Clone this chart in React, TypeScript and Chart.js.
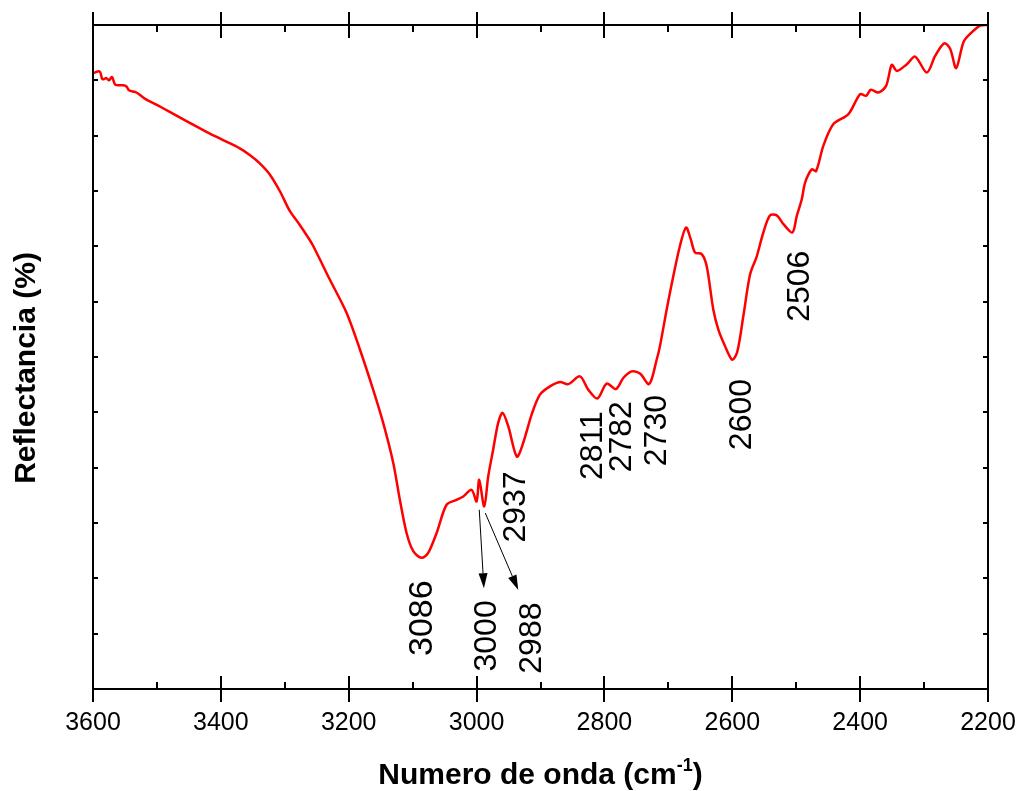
import React, { useEffect, useRef } from "react";
import { Chart, registerables } from "chart.js";

Chart.register(...registerables);

// Wavenumber (cm-1) of each sampled point of the spectrum
const wavenumber: number[] = [
  3600, 3589.5, 3585.3, 3579, 3575, 3570.3, 3565, 3553, 3547.7, 3543.7,
  3532, 3519, 3500.8, 3480, 3448.7, 3422.5, 3396.5, 3370.4, 3354.8, 3339.1,
  3323.5, 3307.8, 3292.2, 3279.2, 3263.5, 3255.7, 3229.6, 3203.4, 3182.6, 3161.8,
  3146.1, 3130.4, 3120, 3109.5, 3099, 3086, 3075.7, 3062.5, 3046.9, 3031.2,
  3020.9, 3007.8, 3000, 2995.9, 2988, 2981.8, 2974, 2966.2, 2959.3, 2950.5,
  2937, 2927, 2913.9, 2900.9, 2885.2, 2869.6, 2856.6, 2838.3, 2825.3, 2811,
  2796.5, 2782, 2770.5, 2757.4, 2744.4, 2730, 2718.3, 2713.1, 2702.6, 2692.3,
  2681.8, 2672.4, 2665, 2658.3, 2647.8, 2640, 2629.7, 2621.9, 2611.4, 2600,
  2592.1, 2582.7, 2572.2, 2561.7, 2551.4, 2540.9, 2530.4, 2520, 2506, 2499.1,
  2491.3, 2486.1, 2475.7, 2468.9, 2457.5, 2441.8, 2418.3, 2400, 2390.7, 2383.3,
  2371.4, 2359.4, 2350.5, 2342.6, 2327, 2314, 2295.7, 2282.7, 2268.6, 2259.2,
  2249.8, 2238.4, 2227.9, 2212.3, 2200,
];

// Reflectance (arbitrary units, axis has no printed values)
const reflectance: number[] = [
  11.13, 11.16, 11.02, 11.04, 11.0, 11.06, 10.92, 10.91, 10.89, 10.82,
  10.78, 10.67, 10.56, 10.43, 10.23, 10.07, 9.92, 9.77, 9.65, 9.5,
  9.3, 9.0, 8.64, 8.43, 8.16, 8.01, 7.4, 6.8, 6.14, 5.41,
  4.81, 4.09, 3.42, 2.82, 2.49, 2.37, 2.46, 2.82, 3.33, 3.42,
  3.48, 3.6, 3.39, 3.78, 3.3, 3.84, 4.33, 4.81, 4.99, 4.75,
  4.2, 4.45, 4.96, 5.32, 5.47, 5.55, 5.51, 5.65, 5.41, 5.25,
  5.52, 5.42, 5.62, 5.74, 5.7, 5.51, 5.95, 6.2, 6.86, 7.46,
  8.01, 8.34, 8.13, 7.89, 7.86, 7.64, 6.86, 6.5, 6.2, 5.95,
  6.1, 6.74, 7.49, 7.82, 8.25, 8.56, 8.56, 8.4, 8.25, 8.55,
  8.85, 9.15, 9.39, 9.36, 9.82, 10.21, 10.39, 10.75, 10.72, 10.83,
  10.78, 10.9, 11.28, 11.17, 11.29, 11.43, 11.14, 11.44, 11.67, 11.57,
  11.22, 11.69, 11.84, 11.99, 12.0,
];

// Axis range and tick step
const xMin = 2200;
const xMax = 3600;
const xMajorStep = 200;
const xMinorStep = 100;
const yMin = 0;
const yMax = 12;

// Band labels: text, anchor (wavenumber, reflectance) of the label centre, font size
const bandLabels: { text: string; x: number; y: number; size: number }[] = [
  { text: "3086", x: 3088.7, y: 1.28, size: 34 },
  { text: "3000", x: 2986.9, y: 0.96, size: 32 },
  { text: "2988", x: 2917.3, y: 0.92, size: 32 },
  { text: "2937", x: 2942.3, y: 3.29, size: 32 },
  { text: "2811", x: 2821.0, y: 4.4, size: 32 },
  { text: "2782", x: 2775.6, y: 4.56, size: 32 },
  { text: "2730", x: 2721.6, y: 4.67, size: 32 },
  { text: "2600", x: 2589.4, y: 4.96, size: 32 },
  { text: "2506", x: 2498.6, y: 7.28, size: 32 },
];

// Pointer arrows from the doublet to its labels
const arrows: { x1: number; y1: number; x2: number; y2: number }[] = [
  { x1: 2995.8, y1: 3.24, x2: 2988.5, y2: 1.82 },
  { x1: 2986.4, y1: 3.18, x2: 2934.8, y2: 1.79 },
];

const FONT = '"Liberation Sans", Arial, Helvetica, sans-serif';

const framePlugin = {
  id: "frameAndText",
  afterDraw(chart: any) {
    const { ctx, chartArea, scales } = chart;
    const xs = scales.x;
    const ys = scales.y;
    const { left, right, top, bottom } = chartArea;
    ctx.save();

    // Frame
    ctx.strokeStyle = "#000";
    ctx.lineWidth = 2;
    ctx.strokeRect(left, top, right - left, bottom - top);

    // X ticks: majors cross the axis, minors point inward (top and bottom)
    ctx.beginPath();
    for (let v = xMin; v <= xMax; v += xMinorStep) {
      const px = Math.round(xs.getPixelForValue(v));
      const major = (v - xMin) % xMajorStep === 0;
      if (major) {
        ctx.moveTo(px, bottom - 13);
        ctx.lineTo(px, bottom + 13);
        ctx.moveTo(px, top - 13);
        ctx.lineTo(px, top + 13);
      } else {
        ctx.moveTo(px, bottom - 7);
        ctx.lineTo(px, bottom);
        ctx.moveTo(px, top);
        ctx.lineTo(px, top + 7);
      }
    }
    // Y ticks, inward on both sides
    for (let v = yMin; v <= yMax; v += 1) {
      const py = Math.round(ys.getPixelForValue(v));
      ctx.moveTo(left, py);
      ctx.lineTo(left + 5, py);
      ctx.moveTo(right - 5, py);
      ctx.lineTo(right, py);
    }
    ctx.stroke();

    // Band labels, rotated to read bottom-to-top
    ctx.fillStyle = "#000";
    for (const b of bandLabels) {
      const cx = xs.getPixelForValue(b.x);
      const cy = ys.getPixelForValue(b.y);
      ctx.save();
      ctx.translate(cx, cy);
      ctx.rotate(-Math.PI / 2);
      ctx.font = `${b.size}px ${FONT}`;
      ctx.textAlign = "center";
      ctx.textBaseline = "alphabetic";
      ctx.fillText(b.text, 0, b.size * 0.358);
      ctx.restore();
    }

    // Arrows
    ctx.lineWidth = 1;
    for (const a of arrows) {
      const x1 = xs.getPixelForValue(a.x1);
      const y1 = ys.getPixelForValue(a.y1);
      const x2 = xs.getPixelForValue(a.x2);
      const y2 = ys.getPixelForValue(a.y2);
      const ang = Math.atan2(y2 - y1, x2 - x1);
      const headLen = 15;
      const headW = 4.5;
      const bx = x2 - headLen * Math.cos(ang);
      const by = y2 - headLen * Math.sin(ang);
      ctx.beginPath();
      ctx.moveTo(x1, y1);
      ctx.lineTo(bx, by);
      ctx.stroke();
      ctx.beginPath();
      ctx.moveTo(x2, y2);
      ctx.lineTo(bx + headW * Math.sin(ang), by - headW * Math.cos(ang));
      ctx.lineTo(bx - headW * Math.sin(ang), by + headW * Math.cos(ang));
      ctx.closePath();
      ctx.fill();
    }

    // X axis title with superscript
    const mainFont = `bold 30px ${FONT}`;
    const supFont = `bold 18px ${FONT}`;
    const part1 = "Numero de onda (cm";
    const sup = "-1";
    const part2 = ")";
    ctx.font = mainFont;
    const w1 = ctx.measureText(part1).width;
    const w3 = ctx.measureText(part2).width;
    ctx.font = supFont;
    const w2 = ctx.measureText(sup).width;
    const total = w1 + w2 + w3;
    const cxT = (left + right) / 2;
    let tx = cxT - total / 2;
    const baseY = 784;
    ctx.textAlign = "left";
    ctx.textBaseline = "alphabetic";
    ctx.font = mainFont;
    ctx.fillText(part1, tx, baseY);
    tx += w1;
    ctx.font = supFont;
    ctx.fillText(sup, tx, baseY - 13);
    tx += w2;
    ctx.font = mainFont;
    ctx.fillText(part2, tx, baseY);

    // Y axis title
    ctx.save();
    ctx.translate(35, 368);
    ctx.rotate(-Math.PI / 2);
    ctx.font = mainFont;
    ctx.textAlign = "center";
    ctx.fillText("Reflectancia (%)", 0, 0);
    ctx.restore();

    ctx.restore();
  },
};

export default function App() {
  const canvasRef = useRef<HTMLCanvasElement | null>(null);

  useEffect(() => {
    const canvas = canvasRef.current;
    if (!canvas) return;
    const points = wavenumber.map((w, i) => ({ x: w, y: reflectance[i] }));
    const chart = new Chart(canvas, {
      type: "line",
      data: {
        datasets: [
          {
            data: points,
            borderColor: "#ff0000",
            borderWidth: 2.5,
            pointRadius: 0,
            tension: 0.3,
            fill: false,
          },
        ],
      },
      options: {
        animation: false,
        responsive: false,
        devicePixelRatio: 1,
        layout: { padding: { top: 25, right: 28, left: 0, bottom: 0 } },
        plugins: {
          legend: { display: false },
          tooltip: { enabled: false },
        },
        scales: {
          x: {
            type: "linear",
            reverse: true,
            min: xMin,
            max: xMax,
            grid: { display: false, drawTicks: false },
            border: { display: false },
            ticks: {
              stepSize: xMajorStep,
              padding: 19,
              color: "#000",
              font: { family: FONT, size: 25 },
              maxRotation: 0,
              callback: (v: any) => String(v),
            },
            afterFit: (scale: any) => {
              scale.height = 102;
              scale.paddingLeft = 0;
              scale.paddingRight = 0;
            },
          },
          y: {
            type: "linear",
            min: yMin,
            max: yMax,
            grid: { display: false, drawTicks: false },
            border: { display: false },
            ticks: { display: false, stepSize: 1 },
            afterFit: (scale: any) => {
              scale.width = 93;
              scale.paddingTop = 0;
              scale.paddingBottom = 0;
            },
          },
        },
      },
      plugins: [framePlugin],
    });
    return () => chart.destroy();
  }, []);

  return (
    <div style={{ position: "fixed", left: 0, top: 0, width: 1016, height: 791, background: "#fff" }}>
      <canvas ref={canvasRef} width={1016} height={791} />
    </div>
  );
}
